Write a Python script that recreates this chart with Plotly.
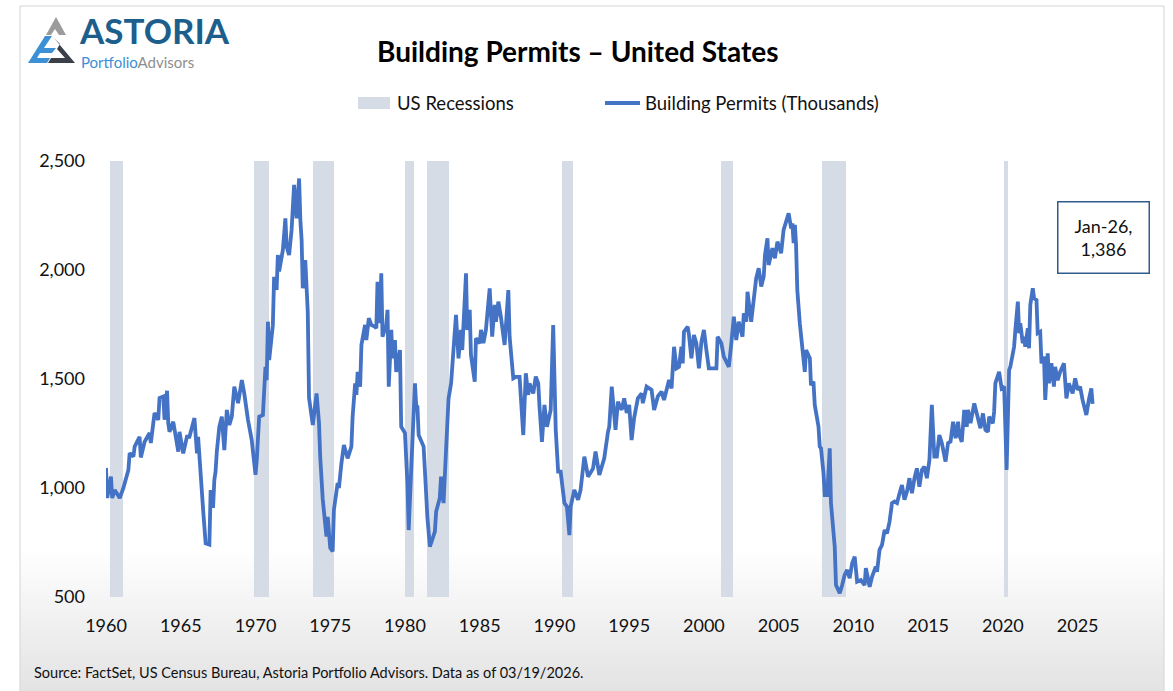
import pandas as pd
import plotly.graph_objects as go

# ---------------- data ----------------
permit_dates = [
    "1960-01","1960-02","1960-05","1960-06","1960-08","1960-12","1961-03","1961-07","1961-08","1961-11",
    "1961-12","1962-04","1962-05","1962-08","1962-12","1963-01","1963-04","1963-07","1963-08","1963-11",
    "1963-12","1964-02","1964-03","1964-04","1964-07","1964-11","1964-12","1965-03","1965-06","1965-08",
    "1965-12","1966-02","1966-03","1966-06","1966-07","1966-09","1966-12","1967-01","1967-03","1967-04",
    "1967-05","1967-06","1967-08","1967-10","1967-12","1968-02","1968-04","1968-06","1968-08","1968-11",
    "1969-02","1969-04","1969-06","1969-07","1969-10","1970-01","1970-02","1970-04","1970-07","1970-08",
    "1970-09","1970-10","1970-11","1970-12","1971-03","1971-04","1971-06","1971-07","1971-08","1971-11",
    "1972-01","1972-02","1972-04","1972-06","1972-08","1972-10","1972-12","1973-01","1973-02","1973-03",
    "1973-05","1973-07","1973-08","1973-11","1974-02","1974-04","1974-05","1974-07","1974-09","1974-10",
    "1974-11","1975-01","1975-03","1975-04","1975-07","1975-08","1975-10","1975-12","1976-03","1976-06",
    "1976-07","1976-09","1976-10","1976-11","1977-01","1977-02","1977-05","1977-06","1977-08","1977-10",
    "1978-01","1978-02","1978-03","1978-05","1978-06","1978-07","1978-10","1978-11","1978-12","1979-02",
    "1979-03","1979-05","1979-06","1979-09","1979-10","1980-01","1980-03","1980-04","1980-06","1980-09",
    "1980-10","1980-11","1980-12","1981-04","1981-06","1981-07","1981-09","1982-01","1982-02","1982-05",
    "1982-06","1982-08","1982-10","1982-12","1983-02","1983-05","1983-06","1983-08","1983-10","1983-11",
    "1984-02","1984-03","1984-05","1984-06","1984-09","1984-10","1985-01","1985-02","1985-04","1985-06",
    "1985-09","1985-11","1986-01","1986-02","1986-04","1986-06","1986-09","1986-12","1987-01","1987-04",
    "1987-06","1987-09","1987-10","1987-12","1988-02","1988-04","1988-05","1988-08","1988-10","1988-12",
    "1989-01","1989-03","1989-05","1989-07","1989-10","1989-12","1990-02","1990-04","1990-06","1990-09",
    "1990-11","1991-01","1991-02","1991-05","1991-08","1991-10","1992-01","1992-04","1992-08","1992-10",
    "1993-01","1993-05","1993-08","1993-09","1993-11","1994-02","1994-04","1994-07","1994-09","1994-11",
    "1995-01","1995-03","1995-05","1995-08","1995-11","1995-12","1996-03","1996-07","1996-09","1996-12",
    "1997-03","1997-05","1997-09","1997-11","1998-01","1998-03","1998-05","1998-07","1998-08","1998-09",
    "1998-12","1999-01","1999-03","1999-05","1999-07","1999-09","1999-11","2000-01","2000-03","2000-05",
    "2000-08","2000-11","2000-12","2001-03","2001-05","2001-08","2001-09","2001-11","2002-01","2002-03",
    "2002-05","2002-08","2002-09","2002-11","2002-12","2003-03","2003-05","2003-07","2003-09","2003-11",
    "2004-01","2004-02","2004-04","2004-05","2004-08","2004-10","2004-12","2005-03","2005-05","2005-07",
    "2005-09","2005-11","2005-12","2006-01","2006-02","2006-03","2006-04","2006-06","2006-08","2006-10",
    "2006-11","2007-02","2007-03","2007-05","2007-06","2007-09","2007-10","2007-11","2008-01","2008-02",
    "2008-04","2008-06","2008-07","2008-10","2008-11","2009-02","2009-04","2009-06","2009-08","2009-10",
    "2009-12","2010-02","2010-04","2010-07","2010-10","2010-11","2011-02","2011-04","2011-07","2011-08",
    "2011-10","2011-12","2012-02","2012-04","2012-06","2012-08","2012-10","2012-12","2013-02","2013-04",
    "2013-06","2013-08","2013-10","2013-12","2014-02","2014-04","2014-06","2014-08","2014-10","2014-12",
    "2015-02","2015-04","2015-06","2015-08","2015-10","2015-12","2016-03","2016-05","2016-07","2016-09",
    "2016-11","2017-01","2017-02","2017-04","2017-06","2017-08","2017-09","2017-11","2018-02","2018-04",
    "2018-07","2018-09","2018-11","2019-01","2019-02","2019-05","2019-06","2019-07","2019-09","2019-10",
    "2019-12","2020-02","2020-04","2020-05","2020-06","2020-07","2020-09","2020-10","2020-11","2021-01",
    "2021-02","2021-03","2021-05","2021-06","2021-07","2021-09","2021-10","2021-11","2022-01","2022-02",
    "2022-04","2022-05","2022-07","2022-08","2022-10","2022-11","2023-01","2023-02","2023-04","2023-06",
    "2023-07","2023-09","2023-11","2024-02","2024-04","2024-06","2024-09","2024-11","2025-01","2025-03",
    "2025-05","2025-08","2025-10","2025-12","2026-01",
]
permit_values = [
    1092,954,1052,954,991,954,1000,1083,1160,1144,
    1190,1235,1140,1212,1252,1206,1344,1313,1413,1420,
    1313,1446,1298,1258,1304,1167,1258,1159,1235,1235,
    1321,1159,1235,954,900,746,740,991,909,1037,
    1075,1167,1281,1327,1174,1358,1289,1327,1465,1389,
    1495,1434,1327,1313,1220,1060,1128,1327,1335,1420,
    1556,1495,1763,1587,1747,1969,1909,2069,1993,2092,
    2237,2107,2069,2184,2390,2237,2420,2229,2138,1916,
    2046,1809,1413,1289,1434,1300,1144,950,839,777,
    868,725,709,900,1023,1000,1113,1197,1136,1190,
    1327,1480,1427,1533,1465,1656,1748,1679,1779,1748,
    1740,1733,1946,1756,1985,1694,1748,1817,1465,1725,
    1595,1679,1533,1633,1281,1252,1022,807,1082,1480,
    1380,1373,1243,1190,976,868,731,800,892,954,
    1052,931,1174,1411,1480,1687,1794,1595,1725,1633,
    1985,1725,1817,1610,1488,1687,1664,1725,1664,1725,
    1916,1694,1840,1763,1855,1786,1656,1908,1694,1503,
    1510,1510,1434,1243,1526,1427,1480,1434,1511,1480,
    1373,1212,1381,1281,1358,1748,1267,1075,1075,931,
    915,784,915,991,946,991,1144,1052,1090,1167,
    1060,1136,1258,1281,1465,1267,1396,1358,1411,1344,
    1381,1220,1321,1411,1434,1389,1465,1450,1358,1420,
    1442,1404,1495,1457,1648,1549,1556,1648,1572,1717,
    1740,1702,1595,1702,1664,1549,1671,1725,1633,1549,
    1549,1549,1694,1664,1603,1565,1556,1664,1786,1679,
    1763,1694,1801,1763,1900,1763,1878,1962,2008,1924,
    1970,2069,2145,2023,2100,2054,2130,2077,2184,2222,
    2260,2191,2214,2123,2207,2115,1908,1755,1648,1533,
    1633,1595,1472,1488,1381,1281,1190,1182,1067,968,
    968,1182,931,731,555,517,555,601,624,586,
    655,685,570,578,555,632,547,593,639,616,
    716,739,807,792,845,931,938,931,976,1014,
    946,984,1045,976,1045,1090,1006,1083,1098,1045,
    1128,1381,1144,1144,1243,1206,1121,1206,1213,1304,
    1228,1304,1243,1212,1358,1281,1358,1297,1388,1342,
    1274,1342,1266,1258,1327,1297,1350,1480,1511,1533,
    1457,1465,1083,1365,1541,1556,1633,1648,1725,1855,
    1710,1756,1664,1694,1648,1733,1641,1840,1916,1870,
    1862,1710,1717,1572,1603,1404,1618,1480,1572,1465,
    1556,1495,1533,1572,1411,1480,1434,1503,1450,1465,
    1404,1335,1404,1457,1386,
]
recession_start = ["1960-04","1969-12","1973-11","1980-01","1981-07","1990-07","2001-03","2007-12","2020-02"]
recession_end   = ["1961-02","1970-11","1975-03","1980-07","1982-11","1991-03","2001-11","2009-06","2020-04"]

title_text = "Building Permits – United States"
series_name = "Building Permits (Thousands)"
recession_name = "US Recessions"
source_text = "Source: FactSet, US Census Bureau, Astoria Portfolio Advisors. Data as of 03/19/2026."

# ---------------- layout geometry ----------------
W, H = 1173, 691
L, R_EDGE, T, B_EDGE = 106, 1100, 161, 597
PW, PH = R_EDGE - L, B_EDGE - T

def PX(x):
    return (x - L) / PW

def PY(y):
    return (B_EDGE - y) / PH

FONT = "Lato, Carlito, 'Open Sans', sans-serif"
LINE_BLUE = "#4472C4"
REC_GREY = "#D6DCE5"
TXT = "#111111"

# ---------------- traces ----------------
dates = pd.to_datetime(permit_dates)
rs = pd.to_datetime(recession_start)
re_ = pd.to_datetime(recession_end) + pd.offsets.MonthBegin(1)
rec_mid = rs + (re_ - rs) / 2
rec_width = [(e - s).total_seconds() * 1000 for s, e in zip(rs, re_)]

fig = go.Figure()
fig.add_trace(go.Bar(
    x=rec_mid, y=[2000] * len(rs), base=500, width=rec_width,
    marker=dict(color=REC_GREY, line=dict(width=0)),
    name=recession_name, showlegend=False, hoverinfo="skip",
))
fig.add_trace(go.Scatter(
    x=dates, y=permit_values, mode="lines",
    line=dict(color=LINE_BLUE, width=3.8),
    name=series_name, showlegend=False,
))

shapes = []
# background gradient (white -> light grey at the bottom)
y0g, y1g = 548, 696
steps = 37
for i in range(steps):
    ya = y0g + (y1g - y0g) * i / steps
    yb = y0g + (y1g - y0g) * (i + 1) / steps
    c = int(round(255 - (255 - 226) * (i + 0.5) / steps))
    shapes.append(dict(type="rect", xref="paper", yref="paper", layer="below",
                       x0=PX(20), x1=PX(1164), y0=PY(yb), y1=PY(ya),
                       fillcolor=f"rgb({c},{c},{c})", line=dict(width=0)))
# frame
shapes.append(dict(type="rect", xref="paper", yref="paper", layer="above",
                   x0=PX(20), x1=PX(1164), y0=PY(700), y1=PY(6),
                   fillcolor="rgba(0,0,0,0)", line=dict(color="#d4d4d4", width=1)))
# legend symbols
shapes.append(dict(type="rect", xref="paper", yref="paper",
                   x0=PX(358), x1=PX(390), y0=PY(109), y1=PY(97),
                   fillcolor=REC_GREY, line=dict(width=0)))
shapes.append(dict(type="line", xref="paper", yref="paper",
                   x0=PX(605), x1=PX(640), y0=PY(103), y1=PY(103),
                   line=dict(color=LINE_BLUE, width=4)))

# logo mark
def path(pts):
    return "M " + " L ".join(f"{PX(x)},{PY(y)}" for x, y in pts) + " Z"

shapes.append(dict(type="path", xref="paper", yref="paper",
                   path=path([(56, 17), (66, 35), (59, 35), (55, 29), (51, 35), (46, 35)]),
                   fillcolor="#9c9c9c", line=dict(width=0)))
shapes.append(dict(type="path", xref="paper", yref="paper",
                   path=path([(45, 36), (52, 36), (44, 48), (56, 48), (52, 53), (40, 53),
                              (37, 58), (50, 58), (47, 63), (28, 63)]),
                   fillcolor="#3d8fd6", line=dict(width=0)))
shapes.append(dict(type="path", xref="paper", yref="paper",
                   path=path([(54, 38), (75, 63), (48, 63), (51, 58), (65, 58), (57, 49), (60, 44)]),
                   fillcolor="#3b4048", line=dict(width=0)))

annotations = [
    dict(text=title_text, x=PX(578), y=PY(51), xref="paper", yref="paper",
         showarrow=False, xanchor="center", yanchor="middle",
         font=dict(family=FONT, size=28, color="#000000", weight="bold")),
    dict(text=recession_name, x=PX(395), y=PY(103), xref="paper", yref="paper",
         showarrow=False, xanchor="left", yanchor="middle",
         font=dict(family=FONT, size=18.5, color=TXT)),
    dict(text=series_name, x=PX(643), y=PY(103), xref="paper", yref="paper",
         showarrow=False, xanchor="left", yanchor="middle",
         font=dict(family=FONT, size=18.5, color=TXT)),
    dict(text=source_text, x=PX(32), y=PY(672), xref="paper", yref="paper",
         showarrow=False, xanchor="left", yanchor="middle",
         font=dict(family=FONT, size=14.5, color=TXT)),
    dict(text="ASTORIA", x=PX(78), y=PY(30.5), xref="paper", yref="paper",
         showarrow=False, xanchor="left", yanchor="middle", borderpad=0,
         font=dict(family=FONT, size=35, color="#1d5f8c", weight="bold")),
    dict(text='<span style="color:#3d8fd6">Portfolio</span><span style="color:#8e8e8e">Advisors</span>',
         x=PX(80), y=PY(62.5), xref="paper", yref="paper",
         showarrow=False, xanchor="left", yanchor="middle", borderpad=0,
         font=dict(family=FONT, size=15)),
]

# data label of the last point
last_date = dates[-1]
last_val = permit_values[-1]
annotations.append(dict(
    text=f"{last_date.strftime('%b-%y')},<br>{last_val:,}",
    x=last_date, y=last_val, xref="x", yref="y",
    showarrow=False, xshift=11, yshift=166,
    width=86, height=66, align="center", valign="middle",
    bordercolor="#2e5d8c", borderwidth=1.5, borderpad=2, bgcolor="#ffffff",
    font=dict(family=FONT, size=18, color=TXT),
))

fig.update_layout(
    width=W, height=H,
    margin=dict(l=L, r=W - R_EDGE, t=T, b=H - B_EDGE, pad=0),
    paper_bgcolor="#ffffff", plot_bgcolor="rgba(0,0,0,0)",
    showlegend=False, bargap=0,
    shapes=shapes, annotations=annotations,
    font=dict(family=FONT, color=TXT),
    xaxis=dict(type="date", range=["1960-01-01", "2026-07-01"],
               tick0="1960-01-01", dtick="M60", tickformat="%Y",
               showgrid=False, zeroline=False, showline=False, ticks="",
               ticklabelstandoff=16, tickfont=dict(family=FONT, size=18, color=TXT)),
    yaxis=dict(range=[500, 2500], tickvals=[500, 1000, 1500, 2000, 2500],
               tickformat=",", showgrid=False, zeroline=False, showline=False, ticks="",
               ticklabelstandoff=20, tickfont=dict(family=FONT, size=18, color=TXT)),
)

fig.write_html("out.html", config={"displayModeBar": False},
               post_script="document.body.style.margin='0';document.body.style.overflow='hidden';")
